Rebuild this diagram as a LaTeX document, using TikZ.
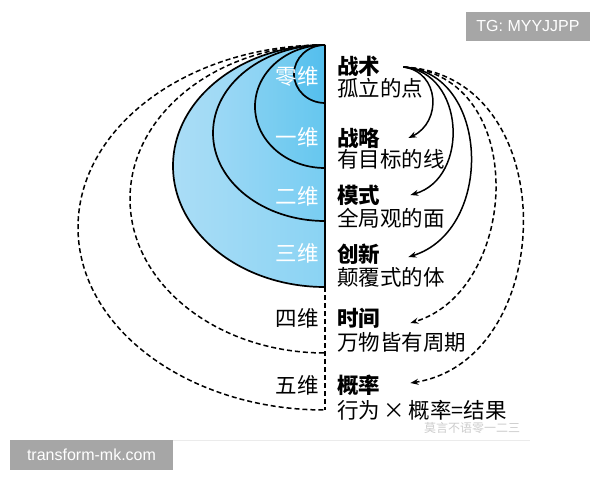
\documentclass[tikz,border=0pt]{standalone}
\usepackage{fontspec}
\setmainfont{Noto Sans CJK SC}
\newfontfamily\wmfont{Liberation Sans}
\usetikzlibrary{arrows.meta}

\definecolor{blueA}{RGB}{170,221,246}
\definecolor{blueB}{RGB}{138,211,243}
\definecolor{blueC}{RGB}{156,216,245}
\definecolor{blueD}{RGB}{120,205,242}
\definecolor{blueE}{RGB}{128,207,241}
\definecolor{blueF}{RGB}{102,199,239}
\definecolor{blueG}{RGB}{98,197,239}
\definecolor{blueH}{RGB}{84,190,237}
\definecolor{wmgray}{RGB}{166,166,166}

\begin{document}
\begin{tikzpicture}[x=1pt,y=-1pt,
    dim/.style={anchor=east,inner sep=0pt,font=\fontsize{21.5}{21.5}\selectfont},
    head/.style={anchor=west,inner sep=0pt,font=\fontsize{21.5}{21.5}\selectfont\bfseries},
    desc/.style={anchor=west,inner sep=0pt,font=\fontsize{21.5}{21.5}\selectfont},
    shell/.style={line width=1.7pt},
    dshell/.style={line width=1.5pt,dash pattern=on 5pt off 3pt},
    arr/.style={-{Stealth[length=8pt,width=6pt]},line width=1.5pt},
    darr/.style={arr,dash pattern=on 5pt off 3pt},
    wmbox/.style={fill=wmgray,text=white,inner sep=0pt,font=\wmfont\fontsize{16}{16}\selectfont}]
    \useasboundingbox (0,0) rectangle (600,480);

    % Fill the solid shells, biggest first
    \shade[left color=blueA,right color=blueB] (325,45) arc[start angle=270,end angle=90,x radius=152,y radius=121] -- cycle;
    \shade[left color=blueC,right color=blueD] (325,45) arc[start angle=270,end angle=90,x radius=112,y radius=88] -- cycle;
    \shade[left color=blueE,right color=blueF] (325,45) arc[start angle=270,end angle=90,x radius=70,y radius=61.5] -- cycle;
    \shade[left color=blueG,right color=blueH] (325,45) arc[start angle=270,end angle=90,x radius=31,y radius=29] -- cycle;

    % Draw the shell outlines
    \draw[shell] (325,45) arc[start angle=270,end angle=90,x radius=31,y radius=29];
    \draw[shell] (325,45) arc[start angle=270,end angle=90,x radius=70,y radius=61.5];
    \draw[shell] (325,45) arc[start angle=270,end angle=90,x radius=112,y radius=88];
    \draw[shell] (325,45) arc[start angle=270,end angle=90,x radius=152,y radius=121];

    % Draw the dashed outer shells
    \draw[dshell] (325,45) arc[start angle=270,end angle=90,x radius=195,y radius=154];
    \draw[dshell] (325,45) arc[start angle=270,end angle=90,x radius=247,y radius=182.5];

    % Draw the axis
    \draw[shell] (325,45) -- (325,287);
    \draw[dshell] (325,287) -- (325,410);

    % Label the dimensions
    \node[dim,text=white] (d0) at (319,76) {零维};
    \node[dim,text=white] (d1) at (319,137) {一维};
    \node[dim,text=white] (d2) at (319,196) {二维};
    \node[dim,text=white] (d3) at (319,253) {三维};
    \node[dim] (d4) at (319,318) {四维};
    \node[dim] (d5) at (319,385) {五维};

    % Label the levels
    \node[head] (h0) at (337,66) {战术};
    \node[desc] (s0) at (337,88) {孤立的点};
    \node[head] (h1) at (337,138) {战略};
    \node[desc] (s1) at (337,159) {有目标的线};
    \node[head] (h2) at (337,195) {模式};
    \node[desc] (s2) at (337,218) {全局观的面};
    \node[head] (h3) at (337,254) {创新};
    \node[desc] (s3) at (337,277) {颠覆式的体};
    \node[head] (h4) at (337,318) {时间};
    \node[desc] (s4) at (337,342) {万物皆有周期};
    \node[head] (h5) at (337,385) {概率};
    \node[desc] (s5) at (337,410) {行为\,×\,概率=结果};

    % Draw the arrows
    \draw[arr] ([xshift=23pt,yshift=-1pt]h0.east) .. controls (440,72) and (442,122) .. ([xshift=28pt,yshift=0pt]h1.east);
    \draw[arr] ([xshift=23pt,yshift=-1pt]h0.east) .. controls (465,72) and (470,178) .. ([xshift=30pt,yshift=0pt]h2.east);
    \draw[arr] ([xshift=23pt,yshift=-1pt]h0.east) .. controls (490,72) and (495,230) .. ([xshift=28pt,yshift=-3pt]h3.east);
    \draw[darr] ([xshift=23pt,yshift=-1pt]h0.east) .. controls (530,75) and (520,290) .. ([xshift=30pt,yshift=-5pt]h4.east);
    \draw[darr] ([xshift=23pt,yshift=-1pt]h0.east) .. controls (565,75) and (558,360) .. ([xshift=30pt,yshift=2pt]h5.east);

    % Watermarks
    \node[text=black!20,font=\fontsize{12}{12}\selectfont] (wx) at (472,428) {莫言不语零一二三};
    \draw[black!8] (70,440) -- (530,440);
    \node[wmbox,minimum width=124pt,minimum height=29pt] (tg) at (528,26) {TG: MYYJJPP};
    \node[wmbox,minimum width=163pt,minimum height=30pt] (tm) at (91.5,455) {transform-mk.com};
\end{tikzpicture}
\end{document}
